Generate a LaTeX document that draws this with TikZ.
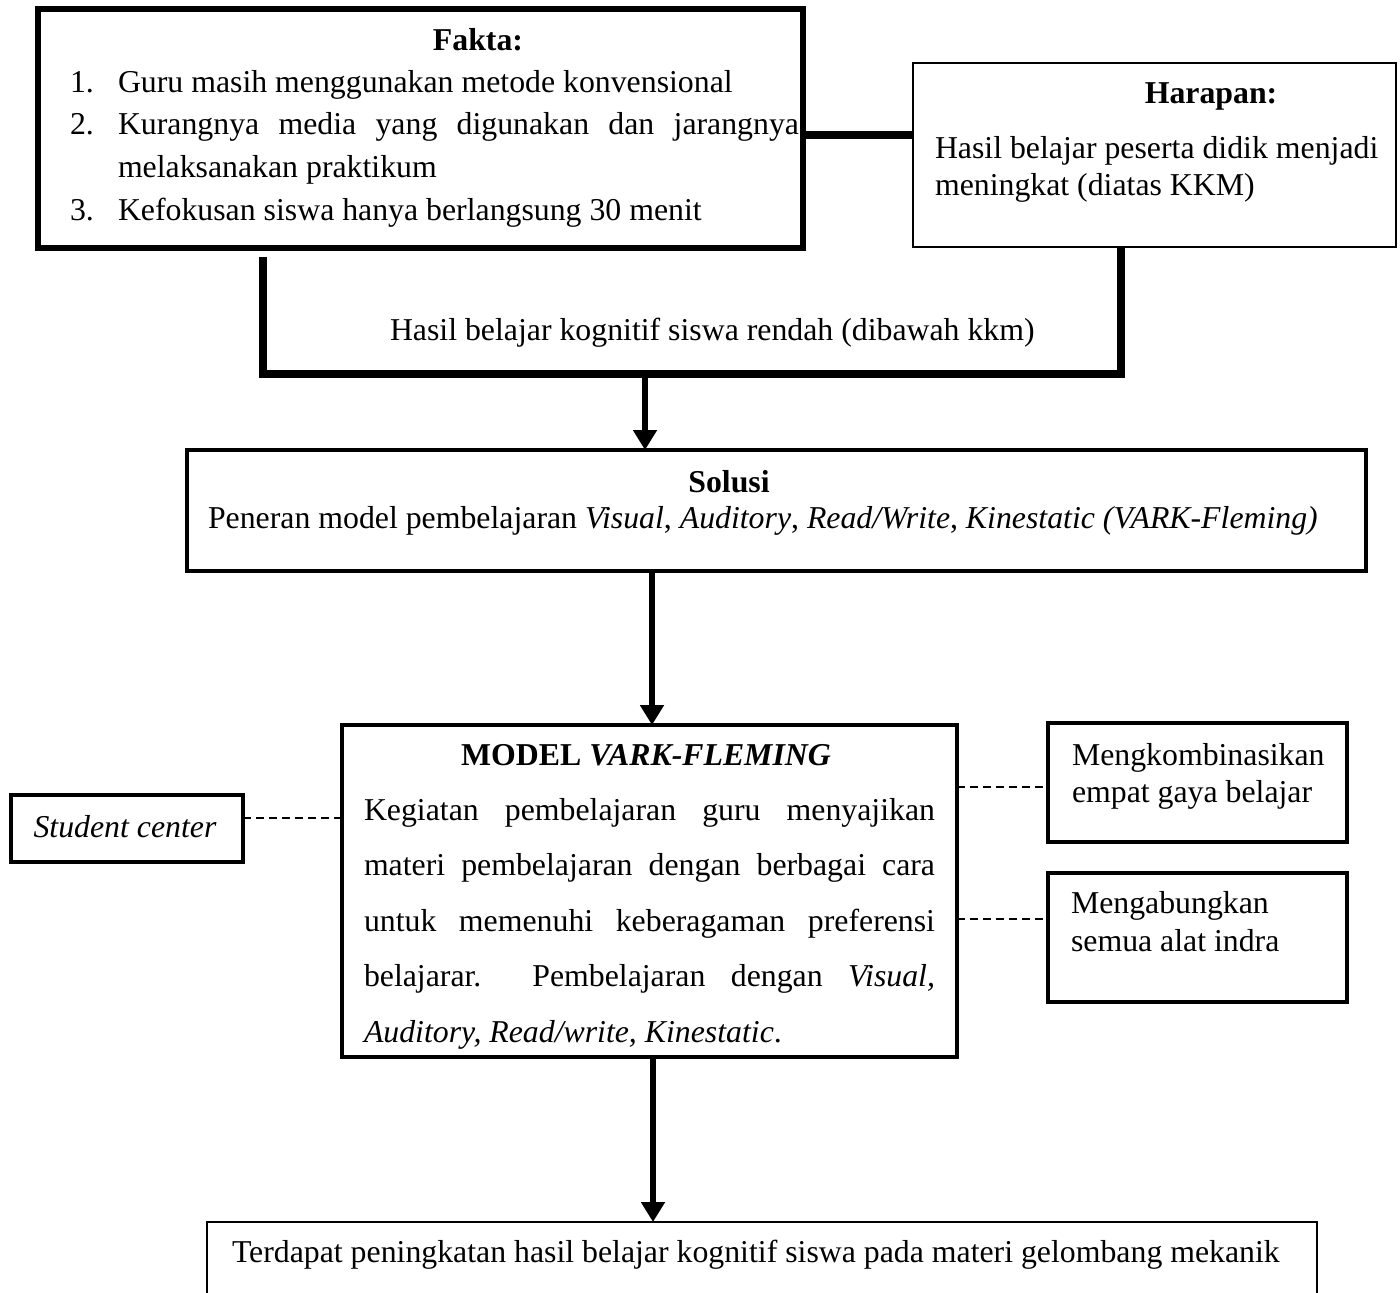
\documentclass[tikz,border=0pt]{standalone}
\usepackage{fontspec}
\setmainfont{Liberation Serif}
\usetikzlibrary{arrows.meta}
\newcommand\fs{\fontsize{15.9pt}{19pt}\selectfont}
\begin{document}
\begin{tikzpicture}[x=0.5pt,y=-0.5pt,
  every node/.style={inner sep=0pt, outer sep=0pt, font=\fs},
  box/.style={draw, rectangle, anchor=north west},
  txt/.style={anchor=base west},
  ctxt/.style={anchor=base},
  thickline/.style={line width=4pt, line join=miter},
  arrowline/.style={line width=3.3pt, -{Triangle[width=11.5pt,length=10pt]}},
  dashline/.style={line width=1pt, dash pattern=on 4pt off 2.5pt}]

\useasboundingbox (0,0) rectangle (1400,1292);
\clip (0,0) rectangle (1400,1292);

% boxes
\node[box, line width=2.6pt, minimum width=382.5pt, minimum height=119.5pt] (fakta) at (38,9) {};
\node[box, line width=1.25pt, minimum width=241.5pt, minimum height=92pt] (harapan) at (913,63) {};
\node[box, line width=2.4pt, minimum width=589.5pt, minimum height=60.5pt] (solusi) at (187,450) {};
\node[box, line width=2.3pt, minimum width=307.5pt, minimum height=166pt] (model) at (342,725) {};
\node[box, line width=2.2pt, minimum width=116pt, minimum height=33.5pt] (student) at (11,795) {};
\node[box, line width=2.3pt, minimum width=149.5pt, minimum height=59.5pt] (komb) at (1048,723) {};
\node[box, line width=2.3pt, minimum width=149.5pt, minimum height=64.5pt] (gabung) at (1048,873) {};
\node[box, line width=1.4pt, minimum width=555pt, minimum height=70pt] (hasil) at (207,1222) {};

% Fakta text
\node[ctxt, font=\fs\bfseries] (faktaT) at (478,50) {Fakta:};
\node[txt] (f1n) at (70,92) {1.};
\node[txt] (f1) at (118,92) {Guru masih menggunakan metode konvensional};
\node[txt] (f2n) at (70,134) {2.};
\node[txt] (f2) at (118,134) {\makebox[340.5pt][s]{Kurangnya media yang digunakan dan jarangnya}};
\node[txt] (f2b) at (118,177) {melaksanakan praktikum};
\node[txt] (f3n) at (70,220) {3.};
\node[txt] (f3) at (118,220) {Kefokusan siswa hanya berlangsung 30 menit};

% Harapan text
\node[ctxt, font=\fs\bfseries] (harT) at (1211,103) {Harapan:};
\node[txt] (har1) at (935,158) {Hasil belajar peserta didik menjadi};
\node[txt] (har2) at (935,195) {meningkat (diatas KKM)};

% low result text
\node[txt] (rendah) at (390,340) {Hasil belajar kognitif siswa rendah (dibawah kkm)};

% Solusi text
\node[ctxt, font=\fs\bfseries] (solT) at (729,492) {Solusi};
\node[txt] (sol1) at (208,528) {Peneran model pembelajaran \textit{Visual}, \textit{Auditory}, \textit{Read/Write}, \textit{Kinestatic (VARK-Fleming)}};

% Model text
\node[ctxt] (modT) at (646,765) {\bfseries MODEL \textit{VARK-FLEMING}};
\node[txt] (m1) at (364,820) {\makebox[285.5pt][s]{Kegiatan pembelajaran guru menyajikan}};
\node[txt] (m2) at (364,875.5) {\makebox[285.5pt][s]{materi pembelajaran dengan berbagai cara}};
\node[txt] (m3) at (364,931) {\makebox[285.5pt][s]{untuk memenuhi keberagaman preferensi}};
\node[txt] (m4) at (364,986.5) {\makebox[285.5pt][s]{belajarar.\ \ Pembelajaran dengan \textit{Visual,}}};
\node[txt] (m5) at (364,1042) {\textit{Auditory, Read/write, Kinestatic}.};

% side boxes text
\node[ctxt] (stuT) at (125,837) {\textit{Student center}};
\node[txt] (k1) at (1072,765) {Mengkombinasikan};
\node[txt] (k2) at (1072,802) {empat gaya belajar};
\node[txt] (g1) at (1071,913) {Mengabungkan};
\node[txt] (g2) at (1071,951) {semua alat indra};

% final text
\node[txt] (h1) at (232,1262) {Terdapat peningkatan hasil belajar kognitif siswa pada materi gelombang mekanik};

% connectors
\draw[thickline] (fakta.east |- 0,135) -- (harapan.west |- 0,135);
\coordinate (brL) at (263,257);
\coordinate (brM) at (645,374);
\draw[thickline] (brL) |- (1121,374) -- (harapan.south -| 1121,0);
\draw[arrowline] (brM) -- (brM |- solusi.north);
\draw[arrowline] (solusi.south -| 652,0) -- (model.north -| 652,0);
\draw[arrowline] (model.south -| 653,0) -- (hasil.north -| 653,0);
\draw[dashline] (student.east |- 0,818) -- (model.west |- 0,818);
\draw[dashline] (model.east |- 0,787) -- (komb.west |- 0,787);
\draw[dashline] (model.east |- 0,919) -- (gabung.west |- 0,919);
\end{tikzpicture}
\end{document}
